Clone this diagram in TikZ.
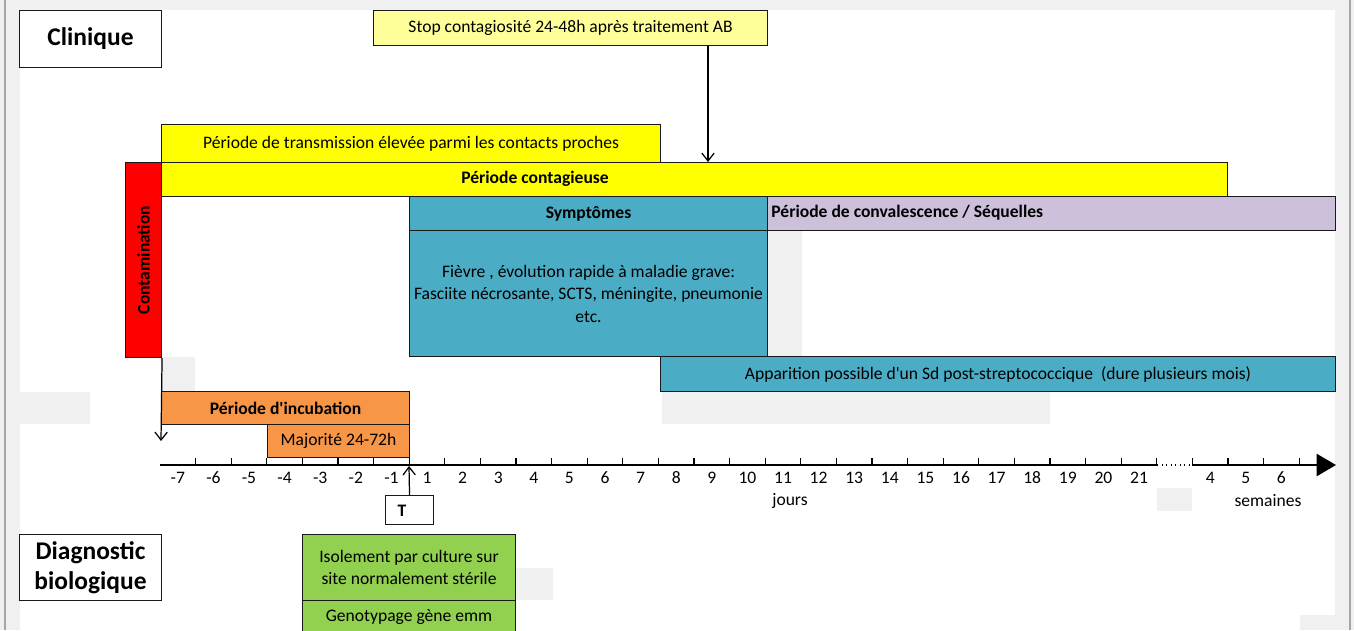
\documentclass[tikz,border=0pt]{standalone}
\usepackage{fontspec}
\setmainfont{Carlito}
\usetikzlibrary{arrows.meta,positioning}
\definecolor{cYellow}{RGB}{255,255,0}
\definecolor{cPale}{RGB}{255,255,153}
\definecolor{cRed}{RGB}{255,0,0}
\definecolor{cTeal}{RGB}{75,172,198}
\definecolor{cLilac}{RGB}{204,192,218}
\definecolor{cOrange}{RGB}{247,150,70}
\definecolor{cGreen}{RGB}{146,208,80}
\definecolor{cBg}{RGB}{240,240,240}
\definecolor{cFrame}{RGB}{165,165,165}
\tikzset{
  sz/.style 2 args={minimum width=#1*0.02cm,minimum height=#2*0.02cm},
  basebox/.style={rectangle,draw=black!90,line width=0.6pt,inner sep=0pt,
                  align=center,anchor=north west,
                  font=\fontsize{10}{12.8}\selectfont},
  titlebox/.style={basebox,fill=white,
                   font=\fontsize{14.5}{17}\selectfont\bfseries},
  yelnode/.style={basebox,fill=cYellow},
  palenode/.style={basebox,fill=cPale},
  rednode/.style={basebox,fill=cRed},
  tealnode/.style={basebox,fill=cTeal},
  lilacnode/.style={basebox,fill=cLilac},
  orangenode/.style={basebox,fill=cOrange},
  greennode/.style={basebox,fill=cGreen},
  txt/.style={inner sep=0pt,font=\fontsize{10}{12.8}\selectfont},
  btxt/.style={inner sep=0pt,font=\fontsize{10}{12.8}\selectfont\bfseries},
  arr/.style={-{Straight Barb[length=4.5pt,width=7pt]},line width=0.7pt},
  axis/.style={line width=1.4pt},
  tick/.style={line width=0.7pt},
  patch/.style={fill=cBg,draw=none}
}
\begin{document}
\begin{tikzpicture}[x=0.02cm,y=-0.02cm]

  \useasboundingbox (0,0) rectangle (1354,630);
  \clip (0,0) rectangle (1354,630);
  \fill[cBg] (0,0) rectangle (1354,630);
  \fill[white] (20,10) rectangle (1335,630);
  \draw[cFrame,line width=1pt] (5,0) -- (5,630);
  \draw[cFrame,line width=1pt] (1350,0) -- (1350,630);
  \foreach \xa/\ya/\xb/\yb in {161/357/195/391,20/392/90/424,662/391/1050/424,
                               767/230/802/356,1157/488/1192/511,515/568/553/600,
                               1300/615/1335/630}
    \fill[patch] (\xa,\ya) rectangle (\xb,\yb);

  \node[titlebox,sz={142}{57}] (clin) at (19,10) {Clinique};
  \node[palenode,sz={394}{35}] (stop) at (373,10)
      {Stop contagiosité 24-48h après traitement AB};

  \node[yelnode,sz={499}{38}] (trans) at (161,124)
      {Période de transmission élevée parmi les contacts proches};
  \node[yelnode,sz={1066}{34}] (contag) at (161,162) {};
  \node[btxt] (contagtxt) at (535,179) {Période contagieuse};

  \node[rednode,sz={36}{195}] (contam) at (125,162) {};
  \node[btxt,rotate=90] (contamtxt) at (contam.center) {Contamination};

  \node[tealnode,sz={358}{34}] (symp) at (409,196) {\bfseries Symptômes};
  \node[tealnode,sz={358}{126}] (sympbody) at (409,230)
      {Fièvre , évolution rapide à maladie grave:\\
       Fasciite nécrosante, SCTS, méningite, pneumonie\\
       etc.};
  \node[lilacnode,sz={568}{34}] (conv) at (767,196) {};
  \node[btxt,anchor=west] (convtxt) at (771,213)
      {Période de convalescence / Séquelles};
  \node[tealnode,sz={675}{35}] (appar) at (660,356)
      {Apparition possible d\textquotesingle un Sd post-streptococcique\ \ (dure plusieurs mois)};

  \node[orangenode,sz={248}{33}] (incub) at (161,391)
      {\bfseries Période d\textquotesingle incubation};
  \node[orangenode,sz={142}{33}] (major) at (267,424) {Majorité 24-72h};

  \coordinate (ax0) at (160,465);
  \coordinate (gapa) at (1157,465);
  \coordinate (gapb) at (1192,465);
  \coordinate (axend) at (1336,465);
  \draw[axis] (ax0) -- (gapa);
  \draw[dotted,line width=0.6pt] (gapa) -- (gapb);
  \draw[axis,-{Triangle[length=11pt,width=12.5pt]}] (gapb) -- (axend);
  \foreach \i in {1,...,32}
    \draw[tick] (160+\i*35.6,465) -- ++(0,-7);

  \foreach \n [count=\i from 0] in {-7,...,-1}
    \node[txt] at (177.8+\i*35.6,478) {\n};
  \foreach \n [count=\i from 7] in {1,...,21}
    \node[txt] at (177.8+\i*35.6,478) {\n};
  \foreach \n [count=\i from 29] in {4,5,6}
    \node[txt] at (177.8+\i*35.6,478) {\n};
  \node[txt] (jours) at (790,501) {jours};
  \node[txt] (sem) at (1268,501) {semaines};

  \node[basebox,fill=white,sz={48}{29}] (tbox) at (385,495) {};
  \node[btxt] (ttxt) at (402,511) {T};
  \coordinate (t0) at (409,466);

  \node[titlebox,sz={142}{66}] (diag) at (19,534) {Diagnostic\\biologique};
  \node[greennode,sz={213}{66}] (isol) at (302,534)
      {Isolement par culture sur\\site normalement stérile};
  \node[greennode,sz={213}{32}] (geno) at (302,600) {Genotypage gène emm};

  \coordinate (abx) at (708,0);
  \coordinate (contend) at (161,441);
  \draw[arr] (abx |- stop.south) -- (abx |- contag.north);
  \draw[arr] (contam.south east) -- (contend);
  \draw[arr] (tbox.north) -- (t0);

\end{tikzpicture}
\end{document}
